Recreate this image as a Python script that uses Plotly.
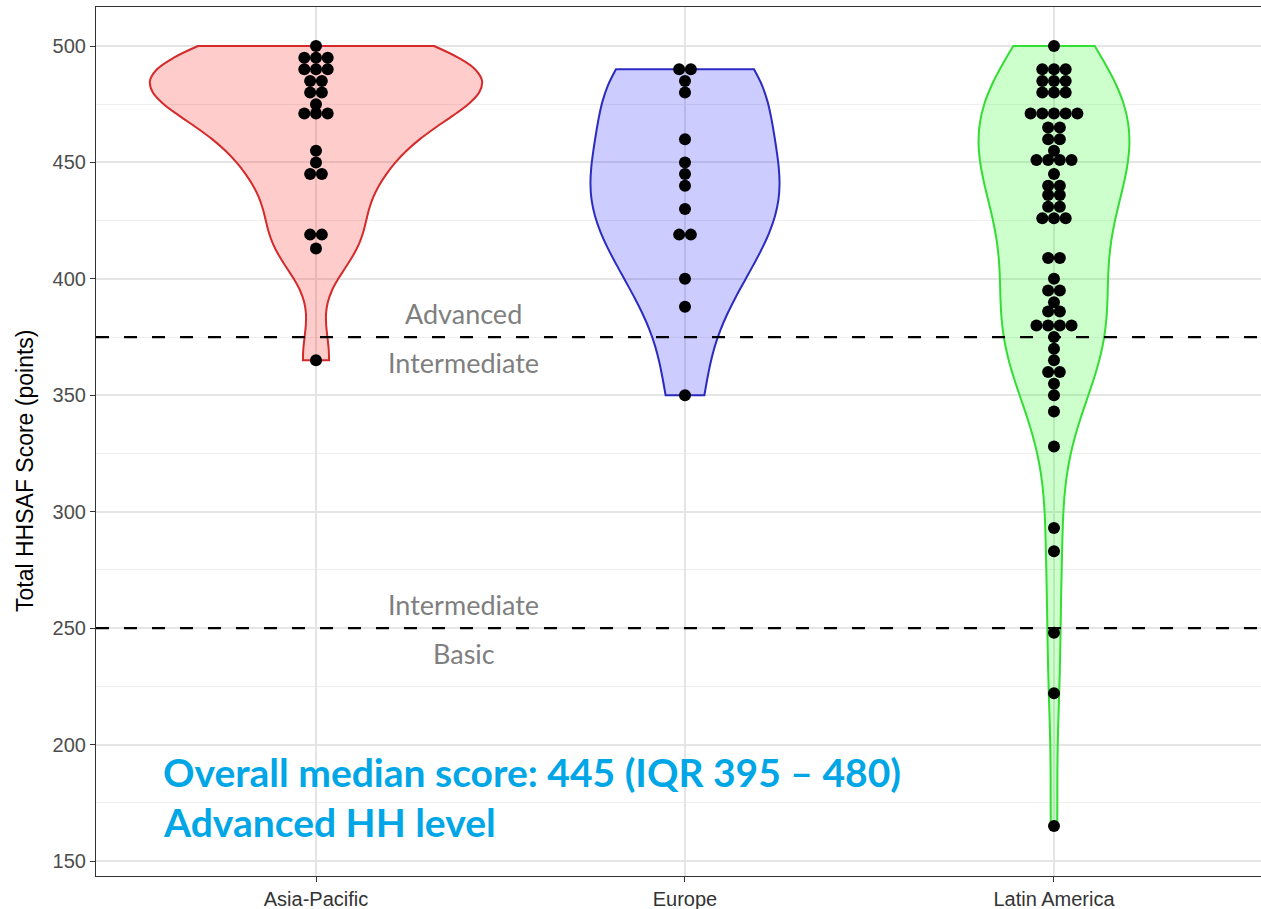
import numpy as np
import plotly.graph_objects as go

# HHSAF total scores by region (points)
regions = ["Asia-Pacific", "Europe", "Latin America"]

asia_pacific = [500, 495, 495, 495, 490, 490, 490, 485, 485, 480, 480, 475,
                471, 471, 471, 455, 450, 445, 445, 419, 419, 413, 365]

europe = [490, 490, 485, 480, 460, 450, 445, 440, 430, 419, 419, 400, 388, 350]

latin_america = [500, 490, 490, 490, 485, 485, 485, 480, 480, 480,
                 471, 471, 471, 471, 471, 465, 465, 460, 460, 455,
                 451, 451, 451, 451, 445, 440, 440, 436, 436, 431,
                 431, 426, 426, 426, 409, 409, 400, 395, 395, 390,
                 386, 386, 380, 380, 380, 380, 375, 370, 365, 360,
                 360, 355, 350, 343, 328, 293, 283, 248, 222, 165]

scores = [asia_pacific, europe, latin_america]

# level thresholds and their labels
thresholds = [375, 250]
level_labels = [("Advanced", 385), ("Intermediate", 364),
                ("Intermediate", 260), ("Basic", 239)]

summary_lines = ["Overall median score: 445 (IQR 395 \u2013 480)",
                 "Advanced HH level"]

fill_colors = ["rgba(255,0,0,0.2)", "rgba(0,0,255,0.2)", "rgba(0,255,0,0.2)"]
line_colors = ["#D42A2A", "#2B2BC0", "#33DD33"]

X_RANGE = [0.4038, 3.561]
Y_RANGE = [143.56, 516.75]
DOT_STEP = 0.0317  # horizontal spacing between stacked dots (category units)
MAX_WIDTH = 0.9


def bw_nrd0(v):
    v = np.asarray(v, dtype=float)
    sd = v.std(ddof=1)
    q75, q25 = np.percentile(v, [75, 25])
    lo = min(sd, (q75 - q25) / 1.34)
    if lo <= 0:
        lo = sd
    return 0.9 * lo * len(v) ** (-0.2)


def kde_peak(v, bw):
    v = np.asarray(v, dtype=float)
    grid = np.linspace(v.min(), v.max(), 512)
    dens = np.exp(-0.5 * ((grid[:, None] - v[None, :]) / bw) ** 2).sum(axis=1)
    dens /= len(v) * bw * np.sqrt(2 * np.pi)
    return dens.max()


# equal-area scaling: each violin's width follows its own density peak
bws = [bw_nrd0(v) for v in scores]
peaks = [kde_peak(v, b) for v, b in zip(scores, bws)]
widths = [MAX_WIDTH * p / max(peaks) for p in peaks]

fig = go.Figure()

for i, (name, vals) in enumerate(zip(regions, scores)):
    fig.add_trace(go.Violin(
        y=vals, x0=i + 1, name=name,
        width=widths[i], spanmode="hard", scalemode="width",
        bandwidth=bws[i],
        fillcolor=fill_colors[i], line=dict(color=line_colors[i], width=2),
        points=False, box_visible=False, meanline_visible=False,
        hoverinfo="skip", showlegend=False,
    ))

# dashed threshold lines
for t in thresholds:
    fig.add_trace(go.Scatter(
        x=X_RANGE, y=[t, t], mode="lines",
        line=dict(color="black", width=2.3, dash="13px,15px"),
        hoverinfo="skip", showlegend=False,
    ))

# centred dot stacks
for i, vals in enumerate(scores):
    xs, ys = [], []
    uniq, counts = np.unique(vals, return_counts=True)
    for v, n in zip(uniq, counts):
        for k in range(n):
            xs.append(i + 1 + (k - (n - 1) / 2) * DOT_STEP)
            ys.append(v)
    fig.add_trace(go.Scatter(
        x=xs, y=ys, mode="markers",
        marker=dict(color="black", size=12, line=dict(width=0)),
        hoverinfo="skip", showlegend=False,
    ))

annotations = []
for text, yv in level_labels:
    annotations.append(dict(
        x=1.4, y=yv, xref="x", yref="y", text=text, showarrow=False,
        font=dict(family="Lato", size=27, color="#7F7F7F"),
        xanchor="center", yanchor="middle",
    ))

for j, line in enumerate(summary_lines):
    annotations.append(dict(
        x=0.0555, y=[0.1197, 0.0621][j], xref="paper", yref="paper",
        text="<b>%s</b>" % line, showarrow=False,
        font=dict(family="Lato", size=39, color="#00A6E6"),
        xanchor="left", yanchor="middle",
    ))

annotations.append(dict(
    x=-0.061, y=0.466, xref="paper", yref="paper",
    text="Total HHSAF Score (points)", showarrow=False, textangle=-90,
    font=dict(family="Liberation Sans, Arial", size=23, color="black"),
    xanchor="center", yanchor="middle",
))

fig.update_layout(
    width=1261, height=909,
    margin=dict(l=96, r=0, t=7, b=33),
    paper_bgcolor="white", plot_bgcolor="white",
    violinmode="overlay",
    annotations=annotations,
    xaxis=dict(
        range=X_RANGE, tickmode="array", tickvals=[1, 2, 3], ticktext=regions,
        showgrid=True, gridcolor="#E5E5E5", gridwidth=1.5, zeroline=False,
        showline=True, linecolor="#333333", linewidth=1.2, mirror=True,
        ticks="outside", ticklen=5, tickcolor="#333333",
        tickfont=dict(family="Liberation Sans, Arial", size=20, color="#333333"),
    ),
    yaxis=dict(
        range=Y_RANGE, tickmode="array",
        tickvals=[150, 200, 250, 300, 350, 400, 450, 500],
        showgrid=True, gridcolor="#E5E5E5", gridwidth=1.5, zeroline=False,
        minor=dict(tickmode="array",
                   tickvals=[175, 225, 275, 325, 375, 425, 475],
                   showgrid=True, gridcolor="#EFEFEF", gridwidth=1, ticks=""),
        showline=True, linecolor="#333333", linewidth=1.2,
        ticks="outside", ticklen=5, tickcolor="#333333",
        tickfont=dict(family="Liberation Sans, Arial", size=20, color="#4D4D4D"),
    ),
)

fig.write_html("out.html")
